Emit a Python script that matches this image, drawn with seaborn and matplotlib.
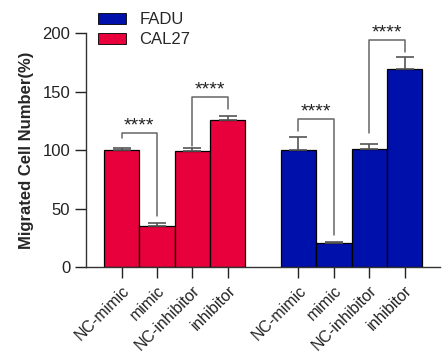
import pandas as pd
import seaborn as sns
import matplotlib.pyplot as plt
from matplotlib.patches import Patch

# Data
conditions = ["NC-mimic", "mimic", "NC-inhibitor", "inhibitor"]
cal27_mean = [100, 35.3, 99.5, 125.5]
cal27_err = [1.8, 2.0, 2.0, 3.5]
fadu_mean = [100, 20.2, 100.8, 169]
fadu_err = [11, 1.5, 4.5, 10.5]

# significance brackets: (left bottom, top, right bottom) per pair
cal27_brackets = [(110, 114.5, 43.6), (103.4, 145.3, 135)]
fadu_brackets = [(116, 126.5, 27.4), (114.5, 194, 184)]

red = "#E8003D"
blue = "#0010AA"

sns.set_style("ticks")
plt.rcParams["font.family"] = ["Liberation Sans", "DejaVu Sans"]

# numeric positions with a one-bar gap between the two cell lines
cal27_pos = [0, 1, 2, 3]
fadu_pos = [5, 6, 7, 8]
df = pd.DataFrame({
    "pos": cal27_pos + fadu_pos,
    "value": cal27_mean + fadu_mean,
    "cell": ["CAL27"] * 4 + ["FADU"] * 4,
})

fig = plt.figure(figsize=(4.44, 3.64), dpi=100)
ax = fig.add_axes([0.194, 0.2665, 0.797, 0.6425])

sns.barplot(data=df, x="pos", y="value", hue="cell", native_scale=True,
            palette={"CAL27": red, "FADU": blue}, saturation=1, width=1, dodge=False,
            edgecolor="black", linewidth=0.9, legend=False, ax=ax)

# upper error bars only
for pos, mean, err in [(cal27_pos, cal27_mean, cal27_err), (fadu_pos, fadu_mean, fadu_err)]:
    ax.errorbar(pos, mean, yerr=[[0] * len(err), err], fmt="none",
                ecolor="#555555", elinewidth=1.2, capsize=6.5, capthick=1.2, zorder=3)

# brackets with stars
for pos, brackets in [(cal27_pos, cal27_brackets), (fadu_pos, fadu_brackets)]:
    for i, (lb, top, rb) in enumerate(brackets):
        x0, x1 = pos[2 * i], pos[2 * i + 1]
        ax.plot([x0, x0, x1, x1], [lb, top, top, rb], color="#666666", lw=1.1,
                clip_on=False, zorder=4)
        ax.text((x0 + x1) / 2, top - 1, "****", ha="center", va="bottom",
                fontsize=14, color="#222222", clip_on=False)

ax.set_xlim(-1, 9)
ax.set_ylim(0, 200)
ax.set_yticks([0, 50, 100, 150, 200])
ax.set_xticks(cal27_pos + fadu_pos)
ax.set_xticklabels(conditions * 2, rotation=45, ha="right", rotation_mode="anchor",
                   fontsize=11.5)
ax.tick_params(axis="y", labelsize=12, length=8, width=1, colors="#222222")
ax.tick_params(axis="x", length=8, width=1, colors="#222222")
ax.set_xlabel("")
ax.set_ylabel("Migrated Cell Number(%)", fontsize=12, fontweight="bold", labelpad=6)
sns.despine(ax=ax)
for s in ["left", "bottom"]:
    ax.spines[s].set_color("#333333")
    ax.spines[s].set_linewidth(1)

handles = [Patch(facecolor=blue, edgecolor="black", lw=0.6, label="FADU"),
           Patch(facecolor=red, edgecolor="black", lw=0.6, label="CAL27")]
fig.legend(handles=handles, loc="upper left", bbox_to_anchor=(0.205, 0.985),
           frameon=False, fontsize=12, handlelength=1.7, handleheight=0.65,
           labelspacing=0.3, handletextpad=0.8, borderaxespad=0)

fig.savefig("out.png", dpi=100)
